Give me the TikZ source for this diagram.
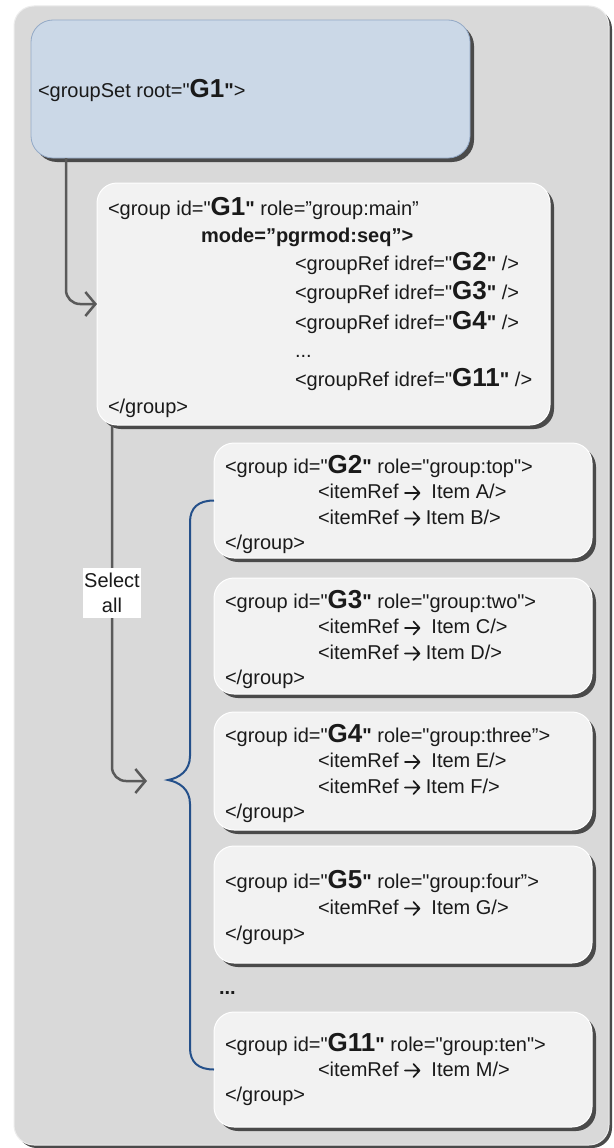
\documentclass[tikz,border=0pt]{standalone}
\usepackage{fontspec}
\setmainfont{Liberation Sans}[Ligatures=TeXOff]
\usetikzlibrary{arrows.meta,shadows,calc}
\definecolor{bggray}{HTML}{D9D9D9}
\definecolor{boxfill}{HTML}{F2F2F2}
\definecolor{topfill}{HTML}{CBD8E7}
\definecolor{topline}{HTML}{93A9C6}
\definecolor{conngray}{HTML}{5A5A5A}
\definecolor{braceblue}{HTML}{24508A}
\definecolor{shadowgray}{HTML}{4A4A4A}
\definecolor{txtcol}{HTML}{1A1A1A}
\newcommand{\gid}[1]{{\fontsize{26pt}{26pt}\selectfont\bfseries #1}\textbf{"}}
\newcommand{\arr}{\tikz[x=1pt,y=1pt,baseline=0pt]{\draw[line width=1.7pt, txtcol, line cap=round, line join=round]
  (0,5.5) -- (14.5,5.5) (8.5,-1) -- (14.5,5.5) -- (8.5,12);}}
\begin{document}
\begin{tikzpicture}[x=1pt,y=-1pt,
  every node/.style={inner sep=0pt, outer sep=0pt},
  txt/.style={anchor=base west, font=\fontsize{20pt}{24pt}\selectfont, text=txtcol},
  outerbox/.style={draw=white!50!bggray, line width=1pt, fill=bggray, rounded corners=20pt, anchor=north west,
    drop shadow={shadow xshift=3pt, shadow yshift=-3pt, fill=shadowgray, opacity=1}},
  topbox/.style={draw=topline, line width=0.8pt, fill=topfill, rounded corners=22pt, anchor=north west,
    drop shadow={shadow xshift=4pt, shadow yshift=-4pt, fill=shadowgray, opacity=1}},
  gbox/.style={draw=white, line width=1pt, fill=boxfill, rounded corners=20pt, anchor=north west,
    drop shadow={shadow xshift=4pt, shadow yshift=-4pt, fill=shadowgray, opacity=1}},
  conn/.style={draw=conngray, line width=2.5pt, rounded corners=14pt,
    -{Straight Barb[length=10pt,width=24pt]}},
  bracestyle/.style={draw=braceblue, line width=2pt},
  lbl/.style={fill=white, align=center, font=\fontsize{20pt}{25pt}\selectfont, text=txtcol,
    minimum width=58pt, minimum height=50pt}
]
\useasboundingbox (0,0) rectangle (613,1148);
\fill[white] (0,0) rectangle (613,1148);

% outer background
\node[outerbox, minimum width=595pt, minimum height=1139pt] (outer) at (14,6) {};

% boxes
\node[topbox, minimum width=439pt, minimum height=138pt] (top) at (31,20) {};
\node[gbox, minimum width=453pt, minimum height=242pt] (g1) at (97,183) {};
\node[gbox, minimum width=378pt, minimum height=115pt] (g2) at (214,443) {};
\node[gbox, minimum width=378pt, minimum height=116pt] (g3) at (214,578) {};
\node[gbox, minimum width=378pt, minimum height=118pt] (g4) at (214,712) {};
\node[gbox, minimum width=378pt, minimum height=117pt] (g5) at (214,846) {};
\node[gbox, minimum width=378pt, minimum height=115pt] (g11) at (214,1012) {};

% connectors
\coordinate (arrowend) at (147,781);
\coordinate (bracetip) at (168,780);
\draw[conn] ($(top.south west)+(35,0)$) |- (g1.west);
\draw[conn] ($(g1.south west)+(15,0)$) |- (arrowend);
\node[lbl] (selall) at (112,593) {Select\\all};

% brace
\draw[bracestyle] (g2.west) .. controls (198,500.5) and (190,508) .. (190,522)
  -- (190,756) .. controls (190,771) and (179,778) .. (bracetip)
  .. controls (179,782) and (190,789) .. (190,804)
  -- (190,1048) .. controls (190,1062) and (198,1069.5) .. (g11.west);

% texts
\node[txt] (tt) at (38,97) {<groupSet root="\gid{G1}>};

\node[txt] (a1) at (108,215) {<group id="\gid{G1} role=”group:main”};
\node[txt, font=\fontsize{20pt}{24pt}\selectfont\bfseries] (a2) at (201,242) {mode=”pgrmod:seq”>};
\node[txt] (a3) at (295,270) {<groupRef idref="\gid{G2} />};
\node[txt] (a4) at (295,299) {<groupRef idref="\gid{G3} />};
\node[txt] (a5) at (295,329) {<groupRef idref="\gid{G4} />};
\node[txt] (a6) at (295,357) {...};
\node[txt] (a7) at (295,386) {<groupRef idref="\gid{G11} />};
\node[txt] (a8) at (108,413) {</group>};

\node[txt] (b1) at (225,473) {<group id="\gid{G2} role="group:top">};
\node[txt] (b2) at (318,498.5) {<itemRef \arr{}~ Item A/>};
\node[txt] (b3) at (318,524) {<itemRef \arr{} Item B/>};
\node[txt] (b4) at (225,549.5) {</group>};

\node[txt] (c1) at (225,608) {<group id="\gid{G3} role="group:two">};
\node[txt] (c2) at (318,633.5) {<itemRef \arr{}~ Item C/>};
\node[txt] (c3) at (318,659) {<itemRef \arr{} Item D/>};
\node[txt] (c4) at (225,684.5) {</group>};

\node[txt] (d1) at (225,742) {<group id="\gid{G4} role="group:three”>};
\node[txt] (d2) at (318,767.5) {<itemRef \arr{}~ Item E/>};
\node[txt] (d3) at (318,793) {<itemRef \arr{} Item F/>};
\node[txt] (d4) at (225,818.5) {</group>};

\node[txt] (e1) at (225,888) {<group id="\gid{G5} role="group:four”>};
\node[txt] (e2) at (318,914) {<itemRef \arr{}~ Item G/>};
\node[txt] (e3) at (225,940) {</group>};

\node[txt, font=\fontsize{20pt}{24pt}\selectfont\bfseries] (dots) at (219,994) {...};

\node[txt] (f1) at (225,1051) {<group id="\gid{G11} role="group:ten">};
\node[txt] (f2) at (318,1076) {<itemRef \arr{}~ Item M/>};
\node[txt] (f3) at (225,1101) {</group>};
\end{tikzpicture}
\end{document}
